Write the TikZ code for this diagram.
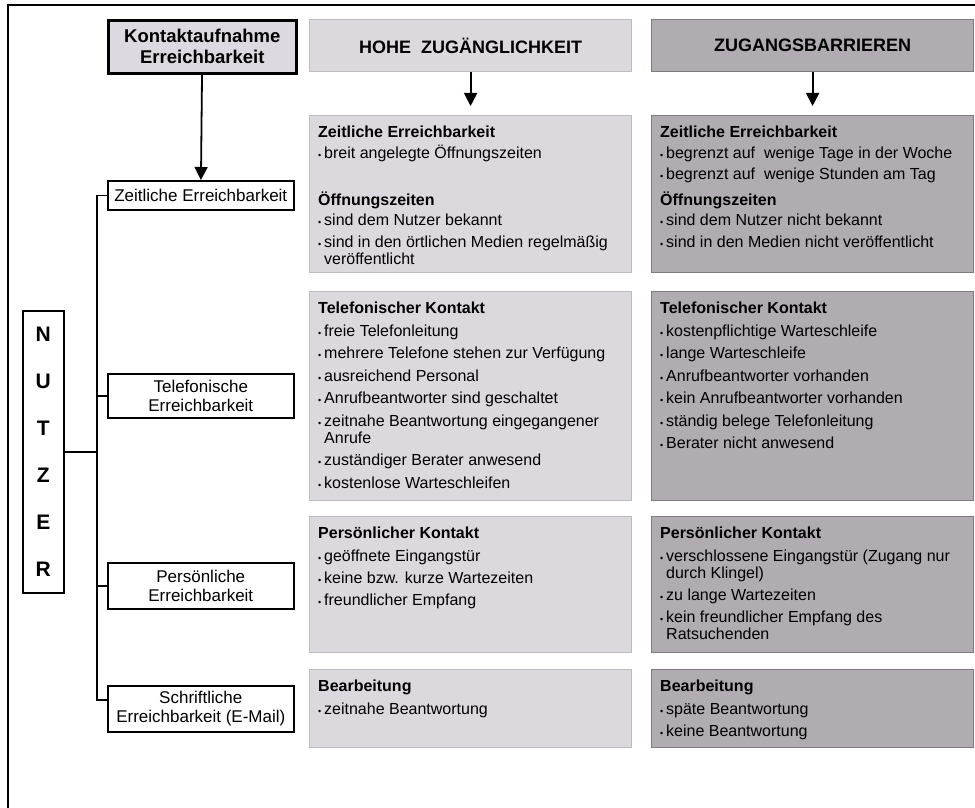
\documentclass[tikz,border=0pt]{standalone}
\usepackage{fontspec}
\setmainfont{Liberation Sans}
\usepackage{xcolor}
\usepackage{tikz}
\usetikzlibrary{positioning,arrows.meta}
\definecolor{hell}{RGB}{220,217,222}
\definecolor{hellrand}{RGB}{190,188,191}
\definecolor{dunkel}{RGB}{176,172,177}
\definecolor{dunkelrand}{RGB}{126,123,127}
\definecolor{kopf}{RGB}{221,217,225}
\newcommand{\bul}{\makebox[6pt][l]{\fontsize{9}{9}\selectfont\textbullet}}
\newcommand{\einr}{\hspace*{6pt}}

\begin{document}
\begin{tikzpicture}[x=1pt,y=-1pt,
hellbox/.style={rectangle,draw=hellrand,fill=hell,line width=1.2pt,
inner sep=0pt,anchor=north west,minimum width=322pt},
dunkelbox/.style={rectangle,draw=dunkelrand,fill=dunkel,line width=1.2pt,
inner sep=0pt,anchor=north west,minimum width=322pt},
inhalt/.style={anchor=north west,align=left,inner sep=0pt,
font=\fontsize{16}{17}\selectfont},
unterbox/.style={rectangle,draw=black,fill=white,line width=1.6pt,
inner sep=0pt,anchor=north west,minimum width=186pt,align=center,
font=\fontsize{17}{19}\selectfont},
zweig/.style={line width=1.6pt},
pfeil/.style={line width=1.8pt,-{Triangle[width=13pt,length=13pt]}}]
\useasboundingbox (0,0) rectangle (975,808);
\draw[line width=1.6pt] (975,5) -- (8,5) -- (8,808);
% Kopfzeile
\node[rectangle,draw=black,fill=kopf,line width=2.6pt,inner sep=0pt,
anchor=north west,minimum width=188pt,minimum height=53pt,align=center,
font=\bfseries\fontsize{18.5}{21}\selectfont] (kontakt) at (107,19)
{Kontaktaufnahme\\Erreichbarkeit};
\node[hellbox,minimum height=52pt,font=\bfseries\fontsize{18}{21}\selectfont] (hohe) at (309,19)
{HOHE~~ZUGÄNGLICHKEIT};
\node[dunkelbox,minimum height=52pt,font=\bfseries\fontsize{18}{21}\selectfont] (barr) at (651,19)
{ZUGANGSBARRIEREN};
% Nutzer und Erreichbarkeiten
\node[rectangle,draw=black,fill=white,line width=1.6pt,inner sep=0pt,
anchor=north west,minimum width=41pt,minimum height=282pt,align=center,
font=\bfseries\fontsize{21}{47}\selectfont] (nutzer) at (22,310)
{N\\U\\T\\Z\\E\\R};
\node[unterbox,minimum height=29pt] (zeit) at (107,180) {Zeitliche Erreichbarkeit};
\node[unterbox,minimum height=44pt] (tel) at (107,373) {Telefonische\\Erreichbarkeit};
\node[unterbox,minimum height=46pt] (pers) at (107,562) {Persönliche\\Erreichbarkeit};
\node[unterbox,minimum height=46pt] (schrift) at (107,685) {Schriftliche\\Erreichbarkeit (E-Mail)};
\coordinate (stamm) at (97,0);
\draw[zweig] (zeit.west) -- (zeit.west -| stamm) |- ([yshift=9pt]schrift.west);
\draw[zweig] (tel.west) -- (tel.west -| stamm);
\draw[zweig] (pers.west) -- (pers.west -| stamm);
\draw[zweig] (nutzer.east) -- (nutzer.east -| stamm);
% Spalten
\node[hellbox,minimum height=157pt] (hohe zeit) at (309,115) {};
\node[dunkelbox,minimum height=157pt] (barr zeit) at (651,115) {};
\node[hellbox,minimum height=209pt] (hohe tel) at (309,291) {};
\node[dunkelbox,minimum height=209pt] (barr tel) at (651,291) {};
\node[hellbox,minimum height=136pt] (hohe pers) at (309,516) {};
\node[dunkelbox,minimum height=136pt] (barr pers) at (651,516) {};
\node[hellbox,minimum height=78pt] (hohe schrift) at (309,669) {};
\node[dunkelbox,minimum height=78pt] (barr schrift) at (651,669) {};
\draw[pfeil] (kontakt) -- (zeit);
\draw[pfeil,shorten >=9pt] (hohe) -- (hohe zeit);
\draw[pfeil,shorten >=9pt] (barr) -- (barr zeit);
% Texte
\node[inhalt] at ([shift={(9pt,-11pt)}]hohe zeit.north west)
{\textbf{Zeitliche Erreichbarkeit}\\[4pt]
\bul breit angelegte Öffnungszeiten\\[30pt]
\textbf{Öffnungszeiten}\\[3pt]
\bul sind dem Nutzer bekannt\\[5pt]
\bul sind in den örtlichen Medien regelmäßig\\
\einr veröffentlicht};
\node[inhalt] at ([shift={(9pt,-11pt)}]barr zeit.north west)
{\textbf{Zeitliche Erreichbarkeit}\\[4pt]
\bul begrenzt auf~ wenige Tage in der Woche\\[4pt]
\bul begrenzt auf~ wenige Stunden am Tag\\[9pt]
\textbf{Öffnungszeiten}\\[3pt]
\bul sind dem Nutzer nicht bekannt\\[5pt]
\bul sind in den Medien nicht veröffentlicht};
\node[inhalt] at ([shift={(9pt,-11pt)}]hohe tel.north west)
{\textbf{Telefonischer Kontakt}\\[5.5pt]
\bul freie Telefonleitung\\[5.5pt]
\bul mehrere Telefone stehen zur Verfügung\\[5.5pt]
\bul ausreichend Personal\\[5.5pt]
\bul Anrufbeantworter sind geschaltet\\[5.5pt]
\bul zeitnahe Beantwortung eingegangener\\
\einr Anrufe\\[5.5pt]
\bul zuständiger Berater anwesend\\[5.5pt]
\bul kostenlose Warteschleifen};
\node[inhalt] at ([shift={(9pt,-11pt)}]barr tel.north west)
{\textbf{Telefonischer Kontakt}\\[5.5pt]
\bul kostenpflichtige Warteschleife\\[5.5pt]
\bul lange Warteschleife\\[5.5pt]
\bul Anrufbeantworter vorhanden\\[5.5pt]
\bul kein Anrufbeantworter vorhanden\\[5.5pt]
\bul ständig belege Telefonleitung\\[5.5pt]
\bul Berater nicht anwesend};
\node[inhalt] at ([shift={(9pt,-11pt)}]hohe pers.north west)
{\textbf{Persönlicher Kontakt}\\[5.5pt]
\bul geöffnete Eingangstür\\[5pt]
\bul keine bzw. kurze Wartezeiten\\[5pt]
\bul freundlicher Empfang};
\node[inhalt] at ([shift={(9pt,-11pt)}]barr pers.north west)
{\textbf{Persönlicher Kontakt}\\[5.5pt]
\bul verschlossene Eingangstür (Zugang nur\\
\einr durch Klingel)\\[5pt]
\bul zu lange Wartezeiten\\[5pt]
\bul kein freundlicher Empfang des\\
\einr Ratsuchenden};
\node[inhalt] at ([shift={(9pt,-11pt)}]hohe schrift.north west)
{\textbf{Bearbeitung}\\[5.5pt]
\bul zeitnahe Beantwortung};
\node[inhalt] at ([shift={(9pt,-11pt)}]barr schrift.north west)
{\textbf{Bearbeitung}\\[5.5pt]
\bul späte Beantwortung\\[5pt]
\bul keine Beantwortung};
\end{tikzpicture}
\end{document}
